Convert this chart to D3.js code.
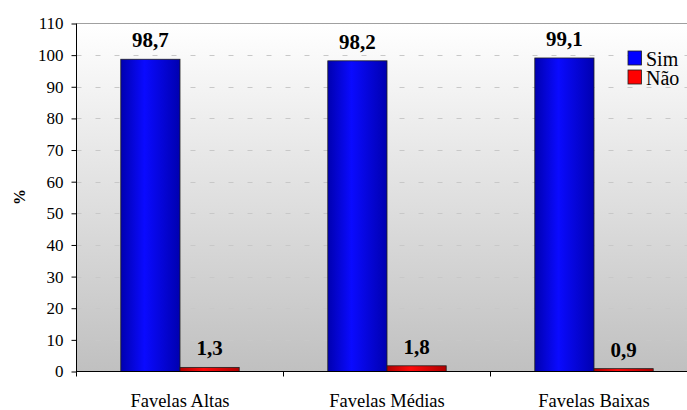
<!DOCTYPE html>
<html><head><meta charset="utf-8"><script src="https://cdn.jsdelivr.net/npm/d3@7"></script></head>
<body style="margin:0">
<svg id="chart" width="687" height="410" style="display:block"></svg>
<script>
// Data
const categories = ["Favelas Altas", "Favelas Médias", "Favelas Baixas"];
const seriesNames = ["Sim", "Não"];
const simValues = [98.7, 98.2, 99.1];
const naoValues = [1.3, 1.8, 0.9];
const valueLabels = [["98,7", "1,3"], ["98,2", "1,8"], ["99,1", "0,9"]];
const yTicks = [0, 10, 20, 30, 40, 50, 60, 70, 80, 90, 100, 110];

const FONT = "'Liberation Serif', 'Times New Roman', serif";
const svg = d3.select("#chart");
const plotLeft = 76.5, plotTop = 23.5, plotBottom = 371.5;
const catWidth = 207;
const plotRight = plotLeft + catWidth * categories.length;

const x = d3.scaleBand().domain(categories).range([plotLeft, plotRight]).padding(0);
const xs = d3.scaleBand().domain(seriesNames).range([44.3, catWidth - 44.3]).padding(0);
const y = d3.scaleLinear().domain([0, 110]).range([plotBottom, plotTop]);

const defs = svg.append("defs");
// plot background: white at top fading to grey at the bottom
const bg = defs.append("linearGradient").attr("id", "bgGrad")
  .attr("x1", 0).attr("y1", 0).attr("x2", 0).attr("y2", 1);
bg.append("stop").attr("offset", "0%").attr("stop-color", "#ffffff");
bg.append("stop").attr("offset", "100%").attr("stop-color", "#c0c0c0");

// cylindrical shading for the bars
function barGrad(id, dark, light) {
  const g = defs.append("linearGradient").attr("id", id)
    .attr("x1", 0).attr("y1", 0).attr("x2", 1).attr("y2", 0);
  g.append("stop").attr("offset", "0%").attr("stop-color", dark);
  g.append("stop").attr("offset", "40%").attr("stop-color", light);
  g.append("stop").attr("offset", "100%").attr("stop-color", dark);
}
barGrad("gSim", "#0000b0", "#0a0aff");
barGrad("gNao", "#b00000", "#ff0a0a");
const fills = { "Sim": "url(#gSim)", "Não": "url(#gNao)" };
const legendFills = { "Sim": "#0000ff", "Não": "#ff0000" };

svg.append("rect")
  .attr("x", plotLeft).attr("y", plotTop)
  .attr("width", plotRight - plotLeft).attr("height", plotBottom - plotTop)
  .attr("fill", "url(#bgGrad)");

// dashed gridlines
svg.append("g").selectAll("line")
  .data(yTicks.filter(t => t > 0 && t < 110))
  .join("line")
  .attr("x1", plotLeft).attr("x2", plotRight)
  .attr("y1", d => Math.round(y(d)) + 0.5).attr("y2", d => Math.round(y(d)) + 0.5)
  .attr("stroke", "#c8c8c8").attr("stroke-width", 1)
  .attr("stroke-dasharray", "5,14");

// top border
svg.append("line")
  .attr("x1", plotLeft).attr("x2", plotRight)
  .attr("y1", plotTop).attr("y2", plotTop)
  .attr("stroke", "#a0a0a0").attr("stroke-width", 1);

// bars
const rows = categories.map((c, i) => ({ cat: c, values: [simValues[i], naoValues[i]], labels: valueLabels[i] }));
const groups = svg.append("g").selectAll("g")
  .data(rows).join("g")
  .attr("transform", d => `translate(${x(d.cat)},0)`);

groups.selectAll("rect")
  .data(d => seriesNames.map((s, j) => ({ s, v: d.values[j] })))
  .join("rect")
  .attr("x", d => xs(d.s))
  .attr("y", d => y(d.v))
  .attr("width", xs.bandwidth())
  .attr("height", d => y(0) - y(d.v))
  .attr("fill", d => fills[d.s])
  .attr("stroke", "#202020").attr("stroke-width", 0.8);

groups.selectAll("text")
  .data(d => seriesNames.map((s, j) => ({ s, v: d.values[j], t: d.labels[j] })))
  .join("text")
  .attr("x", d => xs(d.s) + xs.bandwidth() / 2)
  .attr("y", d => y(d.v) - 12)
  .attr("text-anchor", "middle")
  .attr("font-size", 21).attr("font-weight", "bold")
  .style("font-family", FONT)
  .text(d => d.t);

// y axis
const yAxis = svg.append("g")
  .attr("transform", `translate(${plotLeft},0)`)
  .call(d3.axisLeft(y).tickValues(yTicks).tickSize(5).tickPadding(8).tickFormat(d3.format("d")));
yAxis.attr("font-family", null).attr("font-size", null);
yAxis.select(".domain").attr("stroke", "#000").attr("d", `M0,${plotTop}V${plotBottom + 5}`);
yAxis.selectAll(".tick line").attr("stroke", "#000");
yAxis.selectAll(".tick text").attr("fill", "#000").attr("font-size", 17)
  .style("font-family", FONT);

// x axis: ticks at category boundaries
svg.append("line")
  .attr("x1", plotLeft).attr("x2", plotRight)
  .attr("y1", plotBottom).attr("y2", plotBottom)
  .attr("stroke", "#000").attr("stroke-width", 1);
svg.append("g").selectAll("line")
  .data(categories.slice(1))
  .join("line")
  .attr("x1", d => x(d)).attr("x2", d => x(d))
  .attr("y1", plotBottom).attr("y2", plotBottom + 5)
  .attr("stroke", "#000");
svg.append("g").selectAll("text")
  .data(categories)
  .join("text")
  .attr("x", d => x(d) + x.bandwidth() / 2)
  .attr("y", 407)
  .attr("text-anchor", "middle")
  .attr("font-size", 18.5)
  .style("font-family", FONT)
  .text(d => d);

// y axis title
svg.append("text")
  .attr("transform", "translate(25,197) rotate(-90)")
  .attr("text-anchor", "middle")
  .attr("font-size", 16).attr("font-weight", "bold")
  .style("font-family", FONT)
  .text("%");

// legend
const legend = svg.append("g").attr("transform", "translate(628,51)");
const li = legend.selectAll("g").data(seriesNames).join("g")
  .attr("transform", (d, i) => `translate(0,${i * 19})`);
li.append("rect").attr("width", 13.5).attr("height", 14)
  .attr("fill", d => legendFills[d]).attr("stroke", "#202020").attr("stroke-width", 0.8);
li.append("text").attr("x", 18).attr("y", 15)
  .attr("font-size", 20)
  .style("font-family", FONT)
  .text(d => d);
</script>
</body>
</html>
